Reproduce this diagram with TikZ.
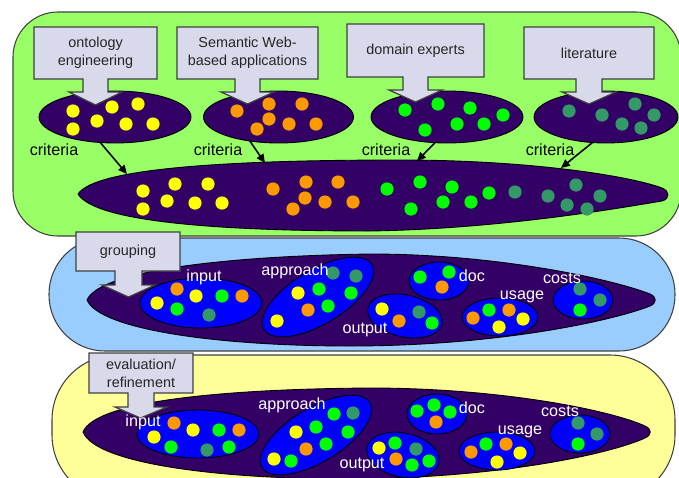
\documentclass[tikz,border=0pt]{standalone}
\usepackage{fontspec}
\setmainfont{Liberation Sans}
\usetikzlibrary{shapes.geometric,arrows.meta}

\definecolor{panelgreen}{HTML}{99FF66}
\definecolor{panelblue}{HTML}{99CCFF}
\definecolor{panelyellow}{HTML}{FFFF99}
\definecolor{poolc}{HTML}{330066}
\definecolor{clusterc}{HTML}{0000FF}
\definecolor{boxfill}{HTML}{D9D9EC}
\definecolor{edgegray}{HTML}{404040}
\definecolor{cy}{HTML}{FFFF00}
\definecolor{co}{HTML}{FF9900}
\definecolor{cg}{HTML}{00FF00}
\definecolor{ct}{HTML}{339966}

\begin{document}
\begin{tikzpicture}[x=0.02cm,y=-0.02cm,
  panel/.style={draw=edgegray, line width=0.6pt},
  poolshape/.style={fill=poolc, draw=black, line width=0.5pt},
  callout/.style={fill=boxfill, draw=edgegray, line width=0.7pt},
  boxtext/.style={align=center, font=\fontsize{8.2}{10.2}\selectfont, text=black!85, inner sep=0pt},
  crit/.style={font=\fontsize{9.2}{11}\selectfont, text=black, inner sep=0pt},
  tag/.style={font=\fontsize{9.2}{11}\selectfont, text=white, inner sep=0pt},
  blob/.style 2 args={ellipse, minimum width=#1*0.02cm, minimum height=#2*0.02cm,
    inner sep=0pt, outer sep=0pt, draw=black, line width=0.5pt},
  source/.style 2 args={blob={#1}{#2}, fill=poolc},
  group/.style 2 args={blob={#1}{#2}, fill=clusterc},
  feed/.style={-{Triangle[length=5pt,width=4.5pt]}, line width=0.9pt},
]
\useasboundingbox (0,0) rectangle (679,477);
\clip (0,0) rectangle (679,477);

% ---- three stage panels
\draw[panel, fill=panelgreen, rounded corners=0.9cm] (13,12) rectangle (681,236);
\draw[panel, fill=panelblue, rounded corners=1.12cm] (49,238) rectangle (675,351);
\draw[panel, fill=panelyellow, rounded corners=1.3cm] (52,355) rectangle (675,500);

% ---- source pools
\node[source={152}{52}] (e1) at (115,117) {};
\node[source={150}{52}] (e2) at (278.5,117) {};
\node[source={152}{52}] (e3) at (447,117) {};
\node[source={144}{52}] (e4) at (606,117) {};

% merged pool
\draw[poolshape] (78,194) .. controls (95,168) and (230,160) .. (400,160)
  .. controls (530,160) and (630,176) .. (662,188)
  .. controls (670,191) and (670,199) .. (662,201)
  .. controls (620,208) and (500,229) .. (370,231)
  .. controls (220,231) and (95,222) .. cycle;
% grouped pool
\draw[poolshape] (87,300) .. controls (100,270) and (230,256) .. (370,254)
  .. controls (500,254) and (615,280) .. (650,294)
  .. controls (657,297) and (657,303) .. (650,306)
  .. controls (615,320) and (500,346) .. (350,346)
  .. controls (220,346) and (100,330) .. cycle;
% refined pool
\draw[poolshape] (83,432) .. controls (96,400) and (230,389) .. (370,388)
  .. controls (500,388) and (610,410) .. (645,426)
  .. controls (652,429) and (652,435) .. (645,438)
  .. controls (610,454) and (500,478) .. (350,479)
  .. controls (220,479) and (96,464) .. cycle;

% ---- criteria groups after grouping
\node[group={122}{50}] (mInput) at (201,303) {};
\node[group={126}{54}, rotate=31] (mApproach) at (318,297) {};
\node[group={60}{38}] (mDoc) at (439,281) {};
\node[group={76}{42}, rotate=-12] (mOutput) at (405,316) {};
\node[group={76}{38}] (mUsage) at (500,317) {};
\node[group={60}{38}] (mCosts) at (583,300) {};

% ---- criteria groups after evaluation/refinement
\node[group={122}{48}] (bInput) at (198,434) {};
\node[group={126}{54}, rotate=31] (bApproach) at (316,435) {};
\node[group={60}{40}] (bDoc) at (437,414) {};
\node[group={74}{44}, rotate=-12] (bOutput) at (403,455) {};
\node[group={76}{38}] (bUsage) at (497,451) {};
\node[group={60}{38}] (bCosts) at (580,434) {};

% ---- criteria dots
\foreach \xa/\ya/\ca in {
  73/111/cy, 73/129/cy, 97/121/cy, 112/107/cy, 138/104/cy, 126/124/cy, 153/124/cy,
  237/111/co, 269/104/co, 302/104/co, 269/119/co, 257/129/co, 289/124/co, 316/124/co,
  405/110/cg, 438/104/cg, 470/108/cg, 503/115/cg, 425/130/cg, 457/124/cg, 484/124/cg,
  569/111/ct, 602/115/ct, 635/104/ct, 654/115/ct, 622/124/ct, 641/128/ct,
  143/191/cy, 143/209/cy, 175/184/cy, 167/201/cy, 208/184/cy, 195/203/cy, 222/203/cy,
  273/189/co, 306/182/co, 338/182/co, 305/198/co, 293/209/co, 325/202/co, 353/202/co,
  387/189/cg, 420/182/cg, 452/187/cg, 489/193/cg, 411/209/cg, 443/202/cg, 471/202/cg,
  515/192/ct, 548/196/ct, 576/185/ct, 600/196/ct, 567/205/ct, 587/209/ct,
  157/303/cy, 177/289/co, 196/296/cy, 222/296/cg, 242/296/co, 177/309/cg, 209/315/ct,
  333/273/ct, 356/276/ct, 298/293/cy, 319/289/cg, 351/293/cg, 308/310/co, 328/306/cg, 277/321/cy,
  382/309/cy, 399/321/co, 419/312/ct, 432/323/cg,
  420/277/cg, 449/272/cg, 442/287/co,
  473/318/co, 489/310/cg, 509/310/co, 523/319/cy, 499/327/cy,
  580/289/ct, 600/300/ct, 580/310/cg,
  154/437/cy, 174/423/co, 193/430/cy, 219/430/cg, 239/430/co, 171/447/cg, 207/450/ct, 229/447/cg,
  334/414/cg, 353/413/ct, 296/432/cy, 316/427/cg, 348/432/cg, 306/449/co, 326/444/cg, 274/459/cy, 291/461/cg,
  379/448/cy, 395/443/cg, 416/449/ct, 396/459/co, 412/465/cg, 429/461/cg,
  417/411/cg, 434/405/cg, 450/412/cg, 436/422/co,
  471/452/co, 486/444/cg, 506/444/co, 520/453/cy, 497/462/cy,
  578/423/ct, 597/434/ct, 578/444/cg}
  \fill[\ca] (\xa,\ya) circle[radius=6.6];

% ---- criteria flowing into the merged pool
\coordinate (t1) at (127,174);
\coordinate (t2) at (265,163);
\coordinate (t3) at (417,161);
\coordinate (t4) at (561,168);
\draw[feed] (e1.240) -- (t1);
\draw[feed] (e2.220) -- (t2);
\draw[feed] (e3.245) -- (t3);
\draw[feed] (e4.242) -- (t4);

\node[crit] (k1) at (54,150) {criteria};
\node[crit] (k2) at (218,150) {criteria};
\node[crit] (k3) at (386,150) {criteria};
\node[crit] (k4) at (550,150) {criteria};

% ---- callout boxes with downward arrows
\draw[callout] (34,27) -- (157,27) -- (157,79) -- (108,79) -- (108,92) -- (122,92)
  -- (95.5,105) -- (69,92) -- (83,92) -- (83,79) -- (34,79) -- cycle;
\draw[callout] (177,27) -- (318,27) -- (318,79) -- (260,79) -- (260,92) -- (274,92)
  -- (247.5,104) -- (221,92) -- (235,92) -- (235,79) -- (177,79) -- cycle;
\draw[callout] (347,24) -- (484,24) -- (484,77) -- (428,77) -- (428,90) -- (442,90)
  -- (415.5,102) -- (389,90) -- (403,90) -- (403,77) -- (347,77) -- cycle;
\draw[callout] (524,27) -- (654,27) -- (654,79) -- (602,79) -- (602,92) -- (616,92)
  -- (589,104) -- (562,92) -- (576,92) -- (576,79) -- (524,79) -- cycle;
\draw[callout] (76,232) -- (180,232) -- (180,271) -- (142,271) -- (142,285) -- (155,285)
  -- (128.5,297) -- (102,285) -- (115,285) -- (115,271) -- (76,271) -- cycle;
\draw[callout] (89,353) -- (193,353) -- (193,393) -- (154,393) -- (154,407) -- (167,407)
  -- (140.5,418) -- (115,407) -- (128,407) -- (128,393) -- (89,393) -- cycle;

\node[boxtext] (boxOE) at (95.5,53) {ontology\\engineering};
\node[boxtext] (boxSW) at (247.5,53) {Semantic Web-\\based applications};
\node[boxtext] (boxDE) at (415.5,50.5) {domain experts};
\node[boxtext] (boxLit) at (589,53) {literature};
\node[boxtext] (boxGroup) at (128,251.5) {grouping};
\node[boxtext] (boxEval) at (141,373) {evaluation/\\refinement};

% ---- group labels
\node[tag] (lmInput) at (204,277) {input};
\node[tag] (lmApproach) at (295,271) {approach};
\node[tag] (lmDoc) at (472,276) {doc};
\node[tag] (lmOutput) at (365,330) {output};
\node[tag] (lmUsage) at (522,297) {usage};
\node[tag] (lmCosts) at (562,278) {costs};

\node[tag] (lbInput) at (143,422) {input};
\node[tag] (lbApproach) at (292,405) {approach};
\node[tag] (lbDoc) at (472,408) {doc};
\node[tag] (lbOutput) at (362,465) {output};
\node[tag] (lbUsage) at (520,432) {usage};
\node[tag] (lbCosts) at (560,411) {costs};
\end{tikzpicture}
\end{document}
